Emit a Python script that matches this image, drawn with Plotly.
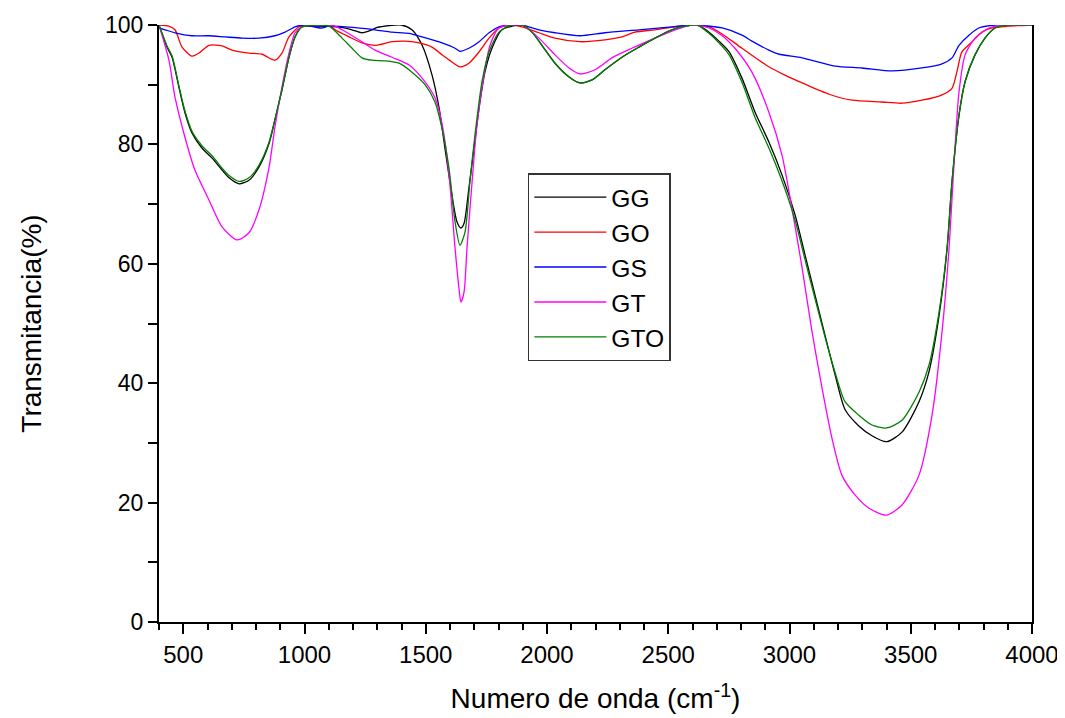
import plotly.graph_objects as go

# ---------------- data ----------------
gg_x = [400, 433, 454, 482, 507, 536, 577, 619, 660, 689, 730, 771, 812, 854, 878, 907, 936, 961, 990,
        1050, 1150, 1196, 1237, 1278, 1300, 1400, 1443, 1485, 1526, 1555, 1579, 1608, 1629, 1645, 1658,
        1678, 1699, 1720, 1744, 1773, 1814, 1856, 1897, 1938, 1979, 2033, 2091, 2136, 2186, 2239, 2309,
        2379, 2445, 2515, 2569, 2620, 2668, 2709, 2751, 2804, 2858, 2915, 2969, 3023, 3064, 3105, 3146,
        3188, 3229, 3287, 3340, 3400, 3464, 3534, 3575, 3617, 3650, 3670, 3699, 3724, 3765, 3806, 3847,
        3900, 4000]
gg_y = [100, 96.3, 94.6, 89.6, 85.3, 81.9, 79.4, 77.7, 75.7, 74.4, 73.4, 74.0, 76.2, 80.2, 84.1, 89.1, 94.6, 98.0, 99.7,
        99.8, 99.6, 99.2, 98.7, 99.2, 99.6, 100, 99.2, 96.6, 91.6, 86.1, 79.4, 71.5, 67.0, 66.0, 66.8,
        72.7, 79.4, 86.1, 92.1, 96.1, 99.2, 99.8, 100, 98.8, 96.6, 93.6, 91.3, 90.3, 90.8, 92.5, 94.6,
        96.3, 97.8, 99.2, 99.8, 100, 98.8, 97.3, 95.5, 91.1, 85.4, 80.4, 74.9, 68.2, 61.5, 54.8, 48.1,
        41.4, 35.6, 32.8, 31.2, 30.2, 31.8, 36.9, 41.9, 51.4, 62.6, 73.7, 84.9, 90.5, 95.0, 97.8, 99.5,
        100, 100]

go_x = [400, 440, 466, 495, 536, 565, 606, 660, 701, 771, 825, 878, 907, 936, 977, 1000, 1100, 1126,
        1184, 1237, 1291, 1361, 1414, 1472, 1526, 1567, 1608, 1641, 1678, 1720, 1761, 1802, 1850, 1897,
        1967, 2033, 2136, 2239, 2309, 2363, 2445, 2528, 2600, 2668, 2722, 2804, 2915, 2981, 3052, 3163,
        3258, 3381, 3464, 3546, 3629, 3670, 3690, 3711, 3753, 3794, 3835, 3900, 4000]
go_y = [100, 99.8, 99.2, 96.3, 94.8, 95.3, 96.6, 96.5, 95.8, 95.3, 95.1, 94.1, 95.3, 98.0, 99.7, 100, 100, 99.2,
        98.0, 97.0, 96.6, 97.2, 97.3, 97.0, 96.3, 95.0, 93.8, 93.0, 93.6, 95.5, 97.8, 99.5, 100, 99.7,
        98.7, 97.8, 97.2, 97.5, 98.0, 98.8, 99.2, 99.7, 100, 99.7, 98.5, 96.1, 93.0, 91.6, 90.3, 88.4,
        87.4, 87.1, 86.9, 87.4, 88.3, 89.4, 92.1, 95.5, 97.2, 98.8, 99.5, 99.8, 100]

gs_x = [400, 425, 466, 536, 606, 673, 743, 812, 878, 920, 961, 1000, 1070, 1100, 1200, 1291, 1361, 1431,
        1485, 1567, 1621, 1641, 1678, 1720, 1761, 1802, 1850, 1897, 1967, 2033, 2136, 2239, 2379, 2515,
        2600, 2722, 2804, 2845, 2915, 2957, 3052, 3188, 3299, 3423, 3546, 3629, 3670, 3699, 3740, 3781,
        3850, 4000]
gs_y = [99.5, 99.2, 98.7, 98.2, 98.2, 98.0, 97.8, 97.8, 98.2, 98.8, 99.7, 100, 99.5, 99.8, 99.6, 99.2, 98.8, 98.6,
        98.0, 97.0, 96.1, 95.6, 96.1, 97.2, 98.7, 99.7, 100, 100, 99.2, 98.7, 98.2, 98.7, 99.2, 99.7,
        100, 99.5, 98.3, 97.3, 95.8, 95.1, 94.5, 93.1, 92.8, 92.3, 92.8, 93.5, 94.5, 96.6, 98.3, 99.5,
        100, 100]

gt_x = [400, 441, 466, 507, 548, 606, 660, 722, 771, 812, 854, 878, 907, 936, 961, 990, 1050, 1100,
        1126, 1155, 1225, 1291, 1361, 1431, 1485, 1538, 1567, 1596, 1621, 1637, 1645, 1658, 1670, 1691,
        1711, 1740, 1765, 1802, 1850, 1897, 1967, 2033, 2091, 2136, 2198, 2268, 2350, 2445, 2528, 2600,
        2668, 2720, 2775, 2845, 2915, 2969, 3010, 3052, 3093, 3134, 3175, 3216, 3270, 3330, 3400, 3464,
        3534, 3588, 3629, 3658, 3678, 3699, 3724, 3765, 3823, 3900, 4000]
gt_y = [100, 94.1, 87.9, 81.2, 75.7, 70.7, 66.2, 64.0, 65.2, 69.0, 76.2, 82.9, 89.6, 95.3, 98.7, 99.7, 100, 100,
        99.8, 99.2, 97.5, 95.8, 94.6, 93.3, 91.1, 87.8, 83.5, 74.9, 62.6, 55.9, 53.6, 55.3, 62.6, 73.7,
        83.2, 91.6, 96.6, 99.5, 100, 100, 97.8, 95.0, 92.8, 91.8, 92.5, 94.5, 96.1, 97.8, 99.2, 100,
        99.5, 98.3, 96.1, 92.1, 85.4, 78.2, 69.3, 59.3, 48.6, 39.2, 30.8, 24.6, 21.3, 19.0, 17.9, 19.6,
        24.6, 34.7, 48.6, 62.6, 76.5, 88.8, 95.0, 97.8, 99.5, 100, 100]

gto_x = [400, 433, 454, 482, 507, 536, 577, 619, 660, 689, 730, 771, 812, 854, 878, 907, 936, 961, 990,
         1050, 1101, 1155, 1196, 1237, 1278, 1332, 1390, 1443, 1497, 1538, 1567, 1596, 1621, 1641, 1662,
         1682, 1703, 1732, 1761, 1802, 1850, 1897, 1938, 1979, 2033, 2091, 2136, 2186, 2239, 2309, 2379,
         2445, 2515, 2569, 2620, 2668, 2709, 2751, 2804, 2858, 2915, 2969, 3023, 3064, 3105, 3146, 3188,
         3229, 3287, 3340, 3400, 3464, 3534, 3575, 3617, 3650, 3670, 3699, 3724, 3765, 3806, 3847, 3900,
         4000]
gto_y = [100, 96.5, 94.8, 89.8, 85.6, 82.2, 79.8, 78.1, 76.0, 74.8, 73.8, 74.4, 76.5, 80.4, 84.2, 89.2, 94.6, 98.0, 99.7,
         100, 99.8, 97.8, 96.1, 94.5, 94.1, 94.0, 93.6, 92.1, 90.0, 87.1, 82.7, 76.0, 67.0, 63.1, 65.3,
         73.7, 81.6, 90.5, 95.5, 98.8, 100, 100, 98.8, 96.6, 93.6, 91.3, 90.3, 90.8, 92.5, 94.6, 96.3,
         97.8, 99.2, 99.8, 100, 98.6, 97.0, 95.0, 90.4, 84.5, 79.4, 73.9, 67.3, 60.7, 54.2, 47.8, 41.8,
         36.9, 34.6, 33.0, 32.5, 33.8, 38.5, 43.0, 52.0, 62.8, 73.7, 84.9, 90.5, 95.0, 97.8, 99.5, 100,
         100]

series_names = ["GG", "GO", "GS", "GT", "GTO"]
series_x = [gg_x, go_x, gs_x, gt_x, gto_x]
series_y = [gg_y, go_y, gs_y, gt_y, gto_y]
series_colors = ["#000000", "#FF0000", "#0000FF", "#FF00FF", "#008000"]

FONT = "Liberation Sans, Arial, sans-serif"

fig = go.Figure()
for name, xs, ys, col in zip(series_names, series_x, series_y, series_colors):
    fig.add_trace(go.Scatter(x=xs, y=ys, mode="lines", name=name,
                             line=dict(color=col, width=1.3, shape="spline", smoothing=0.7)))

# the page body has an 8px default margin, so the figure is sized to fit the window
fig.update_layout(
    width=1057, height=710,
    margin=dict(l=151, r=33, t=17, b=96, autoexpand=False),
    paper_bgcolor="white", plot_bgcolor="white",
    font=dict(family=FONT, color="black"),
    showlegend=True,
    legend=dict(x=0.4225, y=0.752, xanchor="left", yanchor="top",
                bgcolor="white", bordercolor="#333333", borderwidth=1.5,
                font=dict(family=FONT, size=24.6, color="black"),
                itemwidth=72, tracegroupgap=0),
    xaxis=dict(range=[400, 4000], showgrid=False, zeroline=False, automargin=False,
               showline=True, linecolor="black", linewidth=2, mirror=False,
               ticks="outside", ticklen=10, tickwidth=2, tickcolor="black",
               tick0=500, dtick=500,
               minor=dict(ticks="outside", ticklen=6, tickwidth=2, tickcolor="black", dtick=100, tick0=400),
               tickfont=dict(family=FONT, size=24, color="black"),
               title=dict(text="Numero de onda (cm<sup>-1</sup>)", standoff=22,
                          font=dict(family=FONT, size=28, color="black"))),
    xaxis2=dict(range=[400, 4000], overlaying="x", side="top", anchor="y", automargin=False,
                showgrid=False, zeroline=False, showline=True, linecolor="#555555", linewidth=2,
                ticks="inside", ticklen=5, tickwidth=1.5, tickcolor="#555555",
                tick0=400, dtick=100, showticklabels=False),
    yaxis=dict(range=[0, 100], showgrid=False, zeroline=False, automargin=False,
               showline=True, linecolor="black", linewidth=2, mirror=True,
               ticks="outside", ticklen=9, tickwidth=2, tickcolor="black",
               tick0=0, dtick=20,
               minor=dict(ticks="outside", ticklen=9, tickwidth=2, tickcolor="black", dtick=10, tick0=0),
               tickfont=dict(family=FONT, size=23, color="black"),
               title=dict(text="Transmitancia(%)", standoff=55,
                          font=dict(family=FONT, size=28, color="black"))),
)

fig.write_html("out.html")
